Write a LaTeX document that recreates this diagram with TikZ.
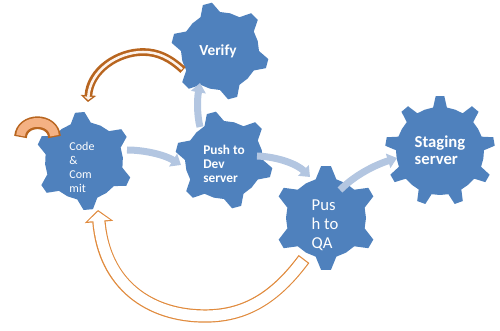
\documentclass[tikz,border=0pt]{standalone}
\usepackage{fontspec}
\setmainfont{Carlito}
\usetikzlibrary{arrows.meta, calc}
\definecolor{gearblue}{HTML}{4F81BD}
\definecolor{flowblue}{HTML}{B3C6E1}
\definecolor{lineorange}{HTML}{E08A3C}
\definecolor{darkorange}{HTML}{B8651F}
\definecolor{paleorange}{HTML}{F4B183}
% position, outer radius, inner radius, teeth, rotation, half tip, half base
\newcommand{\gear}[7]{\fill[gearblue, shift={#1}] (#5+180/#4:#3) \foreach \k in {1,...,#4} { -- (#5+\k*360/#4-#7:#3) -- (#5+\k*360/#4-#6:#2) -- (#5+\k*360/#4+#6:#2) -- (#5+\k*360/#4+#7:#3) -- (#5+\k*360/#4+180/#4:#3)} -- cycle;}
\tikzset{
  gearlabel/.style={text=white, align=left, inner sep=0pt},
  flow/.style={draw=flowblue, line width=5.25pt, -{Triangle[width=11pt, length=7pt]}},
  backloop/.style={draw=white, line width=8.2pt, shorten >=1.2pt, shorten <=0.9pt, -{Triangle[width=16.5pt, length=6.9pt]},
    preaction={draw=lineorange, line width=10pt, shorten >=0pt, shorten <=0pt, -{Triangle[width=21pt, length=9pt]}}},
  verifyloop/.style={draw=white!85!paleorange, line width=1.9pt, shorten >=1.5pt, shorten <=1pt, -{Triangle[width=6pt, length=2.5pt]},
    preaction={draw=darkorange, line width=5.8pt, shorten >=0pt, shorten <=0pt, -{Triangle[width=11.5pt, length=5pt]}}},
  selfloop/.style={draw=paleorange, line width=6.6pt, shorten >=1pt, shorten <=1pt,
    preaction={draw=darkorange, line width=9.6pt, shorten >=0pt, shorten <=0pt}},
}
\begin{document}
\begin{tikzpicture}[x=0.75pt, y=-0.75pt]
  \useasboundingbox (0,0) rectangle (500,331);
  \gear{(84,161)}{49}{39}{6}{-95}{5.5}{15}
  \gear{(220,51)}{49}{39}{6}{-105}{5.5}{15}
  \gear{(224,160)}{49}{39}{6}{-105}{5.5}{15}
  \gear{(326,218)}{52}{40}{6}{-90}{5.5}{15}
  \gear{(440,151)}{55}{44}{9}{-90}{4.5}{9}
  \node[gearlabel, font=\fontsize{9}{10.5}\selectfont] (code) at (82,167) {Code\\\&\\Com\\mit};
  \node[gearlabel, font=\bfseries\fontsize{11.5}{13}\selectfont] (verify) at (218,51) {Verify};
  \node[gearlabel, font=\bfseries\fontsize{10}{10.5}\selectfont] (dev) at (224,164) {Push to\\Dev\\server};
  \node[gearlabel, font=\fontsize{12.5}{14.2}\selectfont] (qa) at (325,225) {Pus\\h to\\QA};
  \node[gearlabel, font=\bfseries\fontsize{12.5}{12.7}\selectfont] (staging) at (440,150) {Staging\\server};
  \draw[flow] ($(code)+(45,-17)$) .. controls (145,150) and (165,155) .. ($(dev)+(-43,1)$);
  \draw[flow] ($(dev)+(-24,-37)$) .. controls (197,115) and (197,100) .. ($(verify)+(-18,32)$);
  \draw[flow] ($(dev)+(33,-8)$) .. controls (280,157) and (298,165) .. ($(qa)+(-15,-48)$);
  \draw[flow] ($(qa)+(15,-35)$) .. controls (355,175) and (375,165) .. ($(staging)+(-43,8)$);
  \draw[verifyloop] ($(verify)+(-35,19)$) .. controls (170,58) and (158,52) .. (143,52) .. controls (118,52) and (90,70) .. ($(code)+(6,-65)$);
  \draw[backloop] ($(qa)+(-21,34)$) .. controls (275,298) and (245,316) .. (205,316) .. controls (150,316) and (104,285) .. ($(code)+(16,43)$);
  \draw[selfloop] ($(code)+(-61.5,-30)$) .. controls (22,118) and (53,118) .. ($(code)+(-27.5,-30)$);
\end{tikzpicture}
\end{document}
